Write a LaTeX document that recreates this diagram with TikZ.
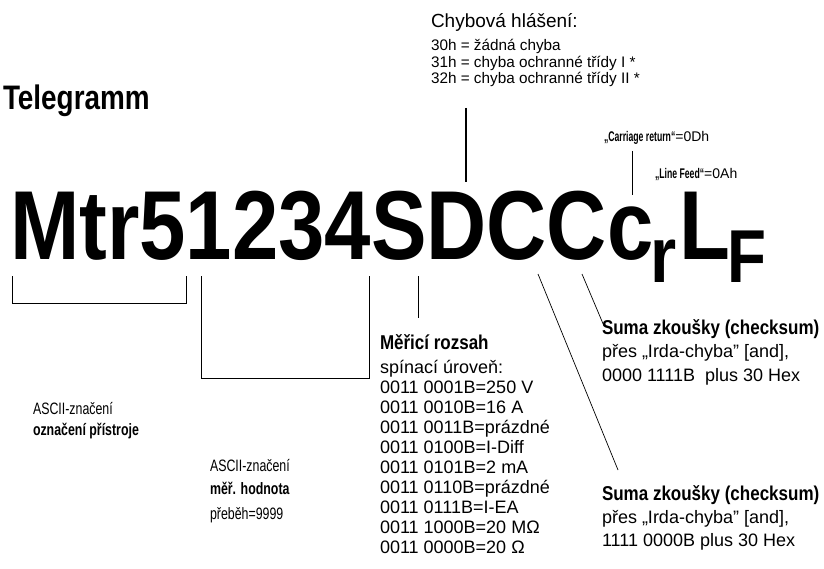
\documentclass[tikz,border=0pt]{standalone}
\usepackage{fontspec}
\setmainfont{Liberation Sans}
\newfontfamily\bigf[FakeStretch=0.85]{Liberation Sans}
\newfontfamily\tgf[FakeStretch=0.82]{Liberation Sans}
\newfontfamily\hdf[FakeStretch=0.85]{Liberation Sans}
\newfontfamily\lbf[FakeStretch=0.75]{Liberation Sans}
\newfontfamily\crf[FakeStretch=0.62]{Liberation Sans}
\tikzset{
  txt/.style={anchor=base west, inner sep=0pt, outer sep=0pt},
  big/.style={txt, font=\bigf\bfseries\fontsize{98}{98}\selectfont},
  head/.style={txt, font=\hdf\bfseries\fontsize{20}{22}\selectfont},
  body/.style={txt, font=\fontsize{18}{20}\selectfont},
  lab/.style={txt, font=\lbf\fontsize{16.5}{18}\selectfont},
  labb/.style={txt, font=\lbf\bfseries\fontsize{16.5}{18}\selectfont},
  note/.style={txt, font=\fontsize{14}{16}\selectfont},
  ln/.style={line width=1pt, line cap=butt, line join=miter},
}
\begin{document}
\begin{tikzpicture}[x=1pt,y=-1pt]
\useasboundingbox (0,0) rectangle (824,569);

% title
\node[txt, font=\tgf\bfseries\fontsize{34}{40}\selectfont] (title) at (3,110) {Telegramm};

% telegram string
\node[big] (tele) at (10,260) {Mtr51234SDCCc\kern-3.4pt\raisebox{-22pt}{\fontsize{79}{79}\selectfont r}\kern3pt L\kern-3pt\raisebox{-22pt}{\fontsize{75}{75}\selectfont F}};

% error messages
\node[txt, font=\fontsize{19}{22}\selectfont] (err) at (431,28) {Chybová hlášení:};
\node[txt, font=\fontsize{15.3}{17}\selectfont] (e0) at (431,51) {30h = žádná chyba};
\node[txt, font=\fontsize{15.3}{17}\selectfont] (e1) at (431,67.5) {31h = chyba ochranné třídy I *};
\node[txt, font=\fontsize{15.3}{17}\selectfont] (e2) at (431,84) {32h = chyba ochranné třídy II *};

% CR / LF
\node[note] (cr) at (604,142) {{\crf\bfseries „Carriage return“}=0Dh};
\node[note] (lf) at (655,179) {{\crf\bfseries „Line Feed“}=0Ah};

% device label
\node[lab] (a1) at (33,414) {ASCII-značení};
\node[labb] (a2) at (33,435) {označení přístroje};

% measured value
\node[lab] (m1) at (210,471) {ASCII-značení};
\node[labb] (m2) at (210,494) {měř. hodnota};
\node[lab] (m3) at (210,519) {přeběh=9999};

% range
\node[head] (r0) at (380,349) {Měřicí rozsah};
\node[body] (r1) at (380,373) {spínací úroveň:};
\node[body] (r2) at (380,393) {0011 0001B=250 V};
\node[body] (r3) at (380,413) {0011 0010B=16 A};
\node[body] (r4) at (380,433) {0011 0011B=prázdné};
\node[body] (r5) at (380,453) {0011 0100B=I-Diff};
\node[body] (r6) at (380,473) {0011 0101B=2 mA};
\node[body] (r7) at (380,493) {0011 0110B=prázdné};
\node[body] (r8) at (380,513) {0011 0111B=I-EA};
\node[body] (r9) at (380,533) {0011 1000B=20 MΩ};
\node[body] (r10) at (380,553) {0011 0000B=20 Ω};

% checksums
\node[head] (s1) at (602,334) {Suma zkoušky (checksum)};
\node[body] (s1a) at (602,357) {přes „Irda-chyba" [and],};
\node[body] (s1b) at (602,381) {0000 1111B\ \ plus 30 Hex};
\node[head] (s2) at (602,500) {Suma zkoušky (checksum)};
\node[body] (s2a) at (602,523) {přes „Irda-chyba" [and],};
\node[body] (s2b) at (602,546) {1111 0000B plus 30 Hex};

% connector points
\coordinate (b1a) at (12,276);  \coordinate (b1b) at (12,303);
\coordinate (b1c) at (186,303); \coordinate (b1d) at (186,276);
\coordinate (b2a) at (201,276); \coordinate (b2b) at (201,378);
\coordinate (b2c) at (369,378); \coordinate (b2d) at (369,276);
\coordinate (rt) at (418,276);  \coordinate (rb) at (418,318);
\coordinate (d1t) at (538,274); \coordinate (d1b) at (618,470);
\coordinate (d2t) at (582,274); \coordinate (d2b) at (604,326);
\coordinate (crt) at (632,151); \coordinate (crb) at (632,195);
\coordinate (et) at (466,108);  \coordinate (eb) at (466,182);

\draw[ln] (b1a) -- (b1b) -- (b1c) -- (b1d);
\draw[ln] (b2a) -- (b2b) -- (b2c) -- (b2d);
\draw[ln] (rt) -- (rb);
\draw[line width=0.7pt] (d1t) -- (d1b);
\draw[line width=0.7pt] (d2t) -- (d2b);
\draw[line width=0.8pt] (crt) -- (crb);
\draw[line width=1.6pt] (et) -- (eb);
\end{tikzpicture}
\end{document}
